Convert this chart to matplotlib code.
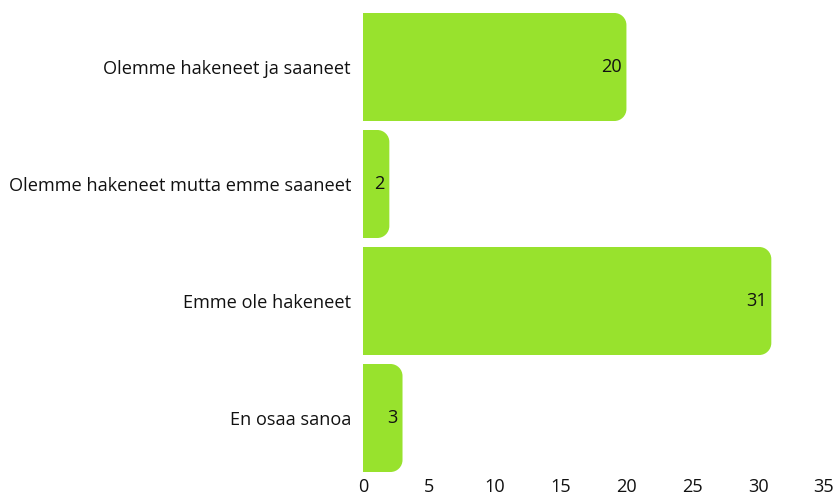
import matplotlib
matplotlib.use("Agg")
import matplotlib.pyplot as plt
from matplotlib.path import Path
from matplotlib.patches import PathPatch

categories = ["Olemme hakeneet ja saaneet", "Olemme hakeneet mutta emme saaneet",
              "Emme ole hakeneet", "En osaa sanoa"]
values = [20, 2, 31, 3]
ticks = [0, 5, 10, 15, 20, 25, 30, 35]

plt.rcParams['font.family'] = ['Open Sans', 'DejaVu Sans']
W, H, DPI = 835, 498, 100
fig = plt.figure(figsize=(W / DPI, H / DPI), dpi=DPI)
left, right, top, bottom = 363, 824, 8.5, 476.5
ax = fig.add_axes([left / W, 1 - bottom / H, (right - left) / W, (bottom - top) / H])
n = len(categories)
ax.set_xlim(0, 35)
ax.set_ylim(n - 0.5, -0.5)

color = "#98E22D"
txt = '#111111'
fs = 13.1
bar_h = 0.923
rpx = 12
px_x = 35 / (right - left)
px_y = n / (bottom - top)
k = 0.5523
for i, v in enumerate(values):
    y0, y1 = i - bar_h / 2, i + bar_h / 2
    rx = min(rpx * px_x, v / 2)
    ry = rpx * px_y
    verts = [(0, y0), (v - rx, y0),
             (v - rx + k * rx, y0), (v, y0 + ry - k * ry), (v, y0 + ry),
             (v, y1 - ry),
             (v, y1 - ry + k * ry), (v - rx + k * rx, y1), (v - rx, y1),
             (0, y1), (0, y0)]
    codes = [Path.MOVETO, Path.LINETO,
             Path.CURVE4, Path.CURVE4, Path.CURVE4,
             Path.LINETO,
             Path.CURVE4, Path.CURVE4, Path.CURVE4,
             Path.LINETO, Path.CLOSEPOLY]
    ax.add_patch(PathPatch(Path(verts, codes), facecolor=color, edgecolor='none'))
    ax.annotate(str(v), (v, i), xytext=(-3.5, 0), textcoords='offset points',
                ha='right', va='center', fontsize=fs, color=txt)

ax.set_yticks(range(n))
ax.set_yticklabels(categories, fontsize=fs, color=txt)
ax.set_xticks(ticks)
ax.set_xticklabels([str(t) for t in ticks], fontsize=fs, color=txt)
ax.tick_params(axis='both', length=0)
ax.tick_params(axis='y', pad=8.7)
ax.tick_params(axis='x', pad=1)
for s in ax.spines.values():
    s.set_visible(False)

fig.savefig("out.png", dpi=DPI)
